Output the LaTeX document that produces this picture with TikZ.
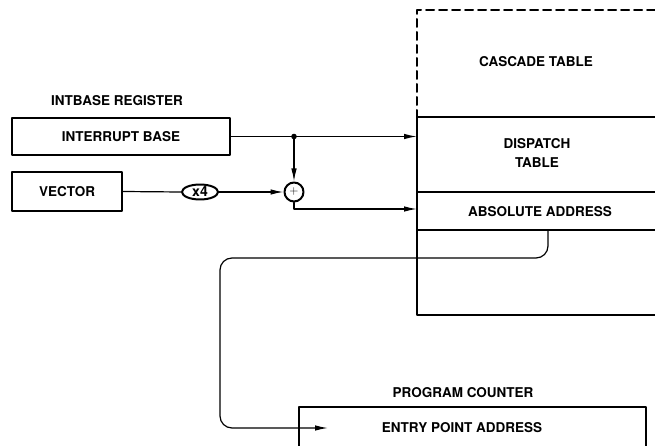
\documentclass[tikz,border=0pt]{standalone}
\usepackage{fontspec}
\setmainfont{TeX Gyre Heros}
\usetikzlibrary{arrows.meta,positioning,shapes.geometric}
\begin{document}
\begin{tikzpicture}[x=1pt,y=-1pt,font=\bfseries\fontsize{13.5}{15}\selectfont,line cap=round,line join=round]
  \useasboundingbox (0,0) rectangle (655,446);
  \tikzset{
    regbox/.style={draw,line width=2pt,inner sep=0pt},
    wire/.style={line width=1.2pt},
    feed/.style={wire,-{Latex[length=13pt,width=5.5pt]}},
  }

  % Registers on the left.
  \node (ibreg) at (117,101) {INTBASE REGISTER};
  \node[regbox,minimum width=218pt,minimum height=37pt] (ib) at (121,136.5) {INTERRUPT BASE};
  \node[regbox,minimum width=110pt,minimum height=39pt] (vec) at (67,191.5) {VECTOR};
  \node[ellipse,draw,line width=2pt,minimum width=36pt,minimum height=15pt,inner sep=0pt,
    font=\bfseries\fontsize{14}{14}\selectfont] (mul) at (200,192) {x4};
  \node[circle,draw,line width=2pt,minimum size=19pt,inner sep=0pt,font=\fontsize{12.5}{13}\selectfont]
    (add) at (294,192) {$+$};
  \coordinate (tap) at (294,136.5);
  \fill (tap) circle (2.8pt);

  % Table on the right; its right side runs off the page.
  \draw[line width=2pt,dash pattern=on 8pt off 5pt] (655,10)--(417,10)--(417,117);
  \draw[line width=2pt] (417,117)--(417,315)--(655,315);
  \draw[line width=2pt] (417,117)--(655,117);
  \draw[line width=2pt] (417,192)--(655,192);
  \draw[line width=2pt] (417,230)--(655,230);
  \node (casc) at (536,62) {CASCADE TABLE};
  \node[align=center] (disp) at (537,153) {DISPATCH\\[4pt]TABLE};
  \node (abs) at (540,212) {ABSOLUTE ADDRESS};
  \coordinate (dispin) at (417,136.5);
  \coordinate (absin) at (417,209);
  \coordinate (absout) at (548,230);

  % Program counter at the bottom, cut by the page edge.
  \draw[line width=2pt] (299,446)--(299,407)--(646,407)--(646,446);
  \node (pclbl) at (463,393) {PROGRAM COUNTER};
  \node (entry) at (462,428) {ENTRY POINT ADDRESS};
  \coordinate (pcin) at (328,428);

  % Connectors.
  \draw[wire] (ib.east) -- (tap);
  \draw[feed] (tap) -- (dispin);
  \draw[feed] (tap) -- (add.north);
  \draw[wire] (vec.east) -- (mul.west);
  \draw[feed] (mul.east) -- (add.west);
  \draw[feed] (add.south) |- (absin);
  \draw[feed,rounded corners=12pt] (absout) -- (548,258) -- (220,258) -- (220,428) -- (pcin);
\end{tikzpicture}
\end{document}
